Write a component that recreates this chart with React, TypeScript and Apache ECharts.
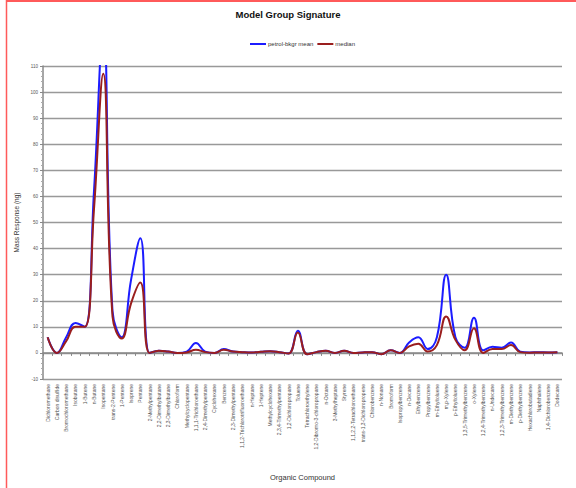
import React, { useEffect, useRef } from "react";
import * as echarts from "echarts";

const categories = [
  "Dichloromethane", "Carbon disulfide", "Bromochloromethane", "Isobutane", "1-Butene",
  "n-Butane", "Isopentane", "trans-2-Pentene", "1-Pentene", "Isoprene",
  "Pentane", "2-Methylpentane", "2,2-Dimethylbutane", "2,3-Dimethylbutane", "Chloroform",
  "Methylcyclopentane", "1,1,1-Trichloroethane", "2,4-Dimethylpentane", "Cyclohexane", "Benzene",
  "2,3-Dimethylpentane", "1,1,2-Trichlorotrifluoroethane", "n-Heptane", "1-Heptene", "Methylcyclohexane",
  "2,3,4-Trimethylpentane", "1,2-Dichloropropane", "Toluene", "Tetrachloroethylene", "1,2-Dibromo-3-chloropropane",
  "n-Octane", "3-Methylheptane", "Styrene", "1,1,2,2-Tetrachloroethane", "trans-1,3-Dichloropropene",
  "Chlorobenzene", "n-Nonane", "Bromoform", "Isopropylbenzene", "n-Decane",
  "Ethylbenzene", "Propylbenzene", "m-Ethyltoluene", "m,p-Xylene", "p-Ethyltoluene",
  "1,3,5-Trimethylbenzene", "o-Xylene", "1,2,4-Trimethylbenzene", "n-Undecane", "1,2,3-Trimethylbenzene",
  "m-Diethylbenzene", "p-Diethylbenzene", "Hexachlorobutadiene", "Naphthalene", "1,4-Dichlorobenzene",
  "Dodecane",
];

const petrolBkgrMean = [
  6, 0, 6, 11.5, 10, 62, 125, 16, 6, 28,
  44, 0, 0.8, 0.5, 0, 0.5, 3.8, 0.5, 0, 1.5,
  0.5, 0.3, 0.2, 0.4, 0.6, 0.3, -0.2, 8.5, -0.5, 0.3,
  0.8, 0, 0.8, 0, 0.2, 0.3, -0.5, 1, 0, 4,
  6, 1.5, 6, 30, 6, 2, 13.5, 1, 2.4, 2,
  4, 0.5, 0.2, 0.3, 0.2, 0.3,
];

const median = [
  6, 0, 4.5, 10, 10, 55, 107, 14, 5.5, 19,
  27, 0, 0.8, 0.5, 0, 0.2, 1.2, 0.3, 0, 1.2,
  0.5, 0.3, 0.2, 0.4, 0.6, 0.3, -0.2, 7.8, -0.5, 0.3,
  0.8, 0, 0.8, 0, 0.2, 0.3, -0.5, 1, 0, 2.5,
  3.5, 0.5, 3, 14, 5, 1, 9.5, 0, 1.5, 1.5,
  3, 0.3, 0.1, 0.2, 0.2, 0.3,
];

const FONT = "Liberation Sans, Arial, sans-serif";

export default function App() {
  const ref = useRef<HTMLDivElement>(null);
  useEffect(() => {
    if (!ref.current) return;
    const chart = echarts.init(ref.current, null, { renderer: "svg" });
    chart.setOption({
      animation: false,
      backgroundColor: "#ffffff",
      textStyle: { fontFamily: FONT },
      title: {
        text: "Model Group Signature",
        left: "center",
        top: 4,
        textStyle: { fontSize: 9.5, fontWeight: "bold", color: "#111", fontFamily: FONT },
      },
      legend: {
        top: 36,
        left: 245,
        itemWidth: 16,
        itemHeight: 2,
        itemGap: 4,
        icon: "rect",
        textStyle: { fontSize: 6, color: "#333", fontFamily: FONT, padding: [0, 0, 0, -3] },
        data: ["petrol-bkgr mean", "median"],
      },
      grid: { left: 43, right: 14, top: 66, bottom: 109, containLabel: false },
      xAxis: {
        type: "category",
        data: categories,
        boundaryGap: true,
        name: "Organic Compound",
        nameLocation: "middle",
        nameGap: 94,
        nameTextStyle: { fontSize: 7.5, color: "#333", fontFamily: FONT },
        axisLine: { lineStyle: { color: "#888", width: 1.5 } },
        axisTick: { show: true, length: 3, lineStyle: { color: "#888" } },
        axisLabel: {
          interval: 0,
          rotate: 90,
          fontSize: 5,
          color: "#555",
          margin: 5,
          fontFamily: FONT,
        },
      },
      yAxis: {
        type: "value",
        min: -10,
        max: 110,
        interval: 10,
        name: "Mass Response (ng)",
        nameLocation: "middle",
        nameGap: 20,
        nameTextStyle: { fontSize: 6.5, color: "#333", fontFamily: FONT },
        axisLine: { show: true, lineStyle: { color: "#888", width: 1.5 } },
        axisTick: { show: true, length: 3, lineStyle: { color: "#888" } },
        minorTick: { show: true, splitNumber: 5, length: 2, lineStyle: { color: "#aaa" } },
        axisLabel: { fontSize: 4.5, color: "#555", margin: 5, fontFamily: FONT },
        splitLine: { show: true, lineStyle: { color: "#999", width: 1.3 } },
      },
      graphic: [
        { type: "line", shape: { x1: 6.5, y1: 0, x2: 6.5, y2: 488 }, style: { stroke: "#ff5a5a", lineWidth: 1.5 } },
        { type: "line", shape: { x1: 6, y1: 1, x2: 576, y2: 1 }, style: { stroke: "#ff5a5a", lineWidth: 2 } },
      ],
      series: [
        {
          name: "petrol-bkgr mean",
          type: "line",
          data: petrolBkgrMean,
          smooth: 0.45,
          symbol: "none",
          clip: true,
          color: "#1c1cff",
          lineStyle: { color: "#1c1cff", width: 2 },
        },
        {
          name: "median",
          type: "line",
          data: median,
          smooth: 0.45,
          symbol: "none",
          clip: true,
          color: "#9a1e1e",
          lineStyle: { color: "#9a1e1e", width: 2 },
        },
      ],
    });
    return () => chart.dispose();
  }, []);
  return (
    <div
      ref={ref}
      style={{ position: "fixed", left: 0, top: 0, width: 576, height: 488 }}
    />
  );
}
